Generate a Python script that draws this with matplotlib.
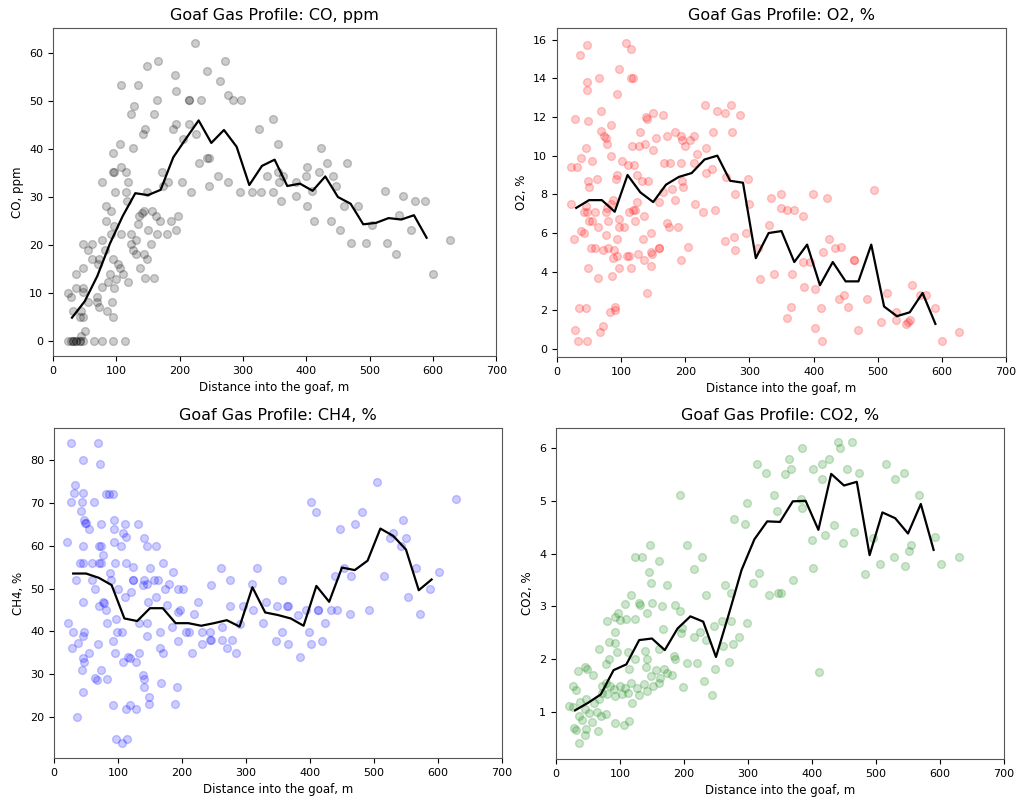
import numpy as np
import matplotlib
matplotlib.use("Agg")
import matplotlib.pyplot as plt

# bin centres of the running average along the goaf
bin_x = [30, 50, 70, 90, 110, 130, 150, 170, 190, 210, 230, 250, 270, 290, 310,
         330, 350, 370, 390, 410, 430, 450, 470, 490, 510, 530, 550, 570, 590]

co_mean = [4.8, 8.2, 13.5, 20.3, 26.0, 30.8, 30.4, 31.5, 38.3, 42.2, 46.0, 41.3, 44.0, 40.5, 32.5,
           36.5, 37.8, 32.3, 32.8, 31.3, 34.3, 30.0, 28.6, 24.3, 24.6, 25.6, 25.3, 26.2, 21.5]
o2_mean = [7.3, 7.7, 7.7, 7.1, 9.0, 8.1, 7.6, 8.5, 8.9, 9.1, 9.8, 10.0, 8.7, 8.6, 4.7,
           6.0, 6.1, 4.5, 5.4, 3.3, 4.5, 3.5, 3.5, 5.4, 2.2, 1.7, 1.9, 2.9, 1.3]
ch4_mean = [53.5, 53.5, 52.5, 50.8, 43.0, 42.4, 45.4, 45.4, 41.9, 41.9, 41.3, 41.9, 42.6, 41.1, 50.3,
            44.4, 43.8, 43.0, 41.3, 50.6, 46.9, 54.9, 54.3, 56.5, 64.0, 62.3, 59.1, 49.6, 52.1]
co2_mean = [1.03, 1.17, 1.33, 1.79, 1.90, 2.36, 2.39, 2.17, 2.58, 2.81, 2.71, 2.04, 2.85, 3.69, 4.27,
            4.61, 4.60, 4.99, 5.00, 4.45, 5.51, 5.29, 5.36, 3.97, 4.78, 4.67, 4.38, 4.94, 4.07]

# individual samples: (distance m, reading)
co_samples = [
    (224, 62.2), (166, 58.4), (149, 57.3), (272, 58.4), (243, 56.3), (108, 53.3), (134, 53.3),
    (192, 55.4), (263, 54.3), (194, 52.2), (277, 51.4), (284, 50.3), (297, 50.3), (214, 50.3),
    (214, 50.3), (233, 50.3), (165, 50.3), (128, 49.1), (123, 47.3), (160, 47.3), (347, 46.3),
    (145, 44.2), (142, 43.2), (190, 44.2), (195, 45.2), (214, 45.2), (226, 43.2), (326, 44.2),
    (355, 41.1), (106, 41.1), (127, 40.2), (95, 39.2), (206, 42.2), (94, 35.2), (97, 35.2),
    (108, 36.2), (115, 35.2), (172, 35.2), (231, 37.2), (244, 38.2), (247, 38.2), (118, 33.2),
    (78, 33.1), (182, 33.2), (203, 33.1), (261, 34.3), (276, 33.1), (338, 34.3), (355, 35.2),
    (174, 32.2), (115, 31.1), (98, 31.1), (148, 31.1), (218, 31.1), (246, 32.2), (295, 31.1),
    (314, 31.1), (329, 31.1), (347, 31.1), (360, 29.2), (117, 29.2), (84, 28.2), (91, 27.1),
    (140, 26.6), (144, 27.1), (156, 27.1), (163, 26.1), (136, 26.1), (169, 25.0), (186, 25.0),
    (198, 26.1), (84, 25.0), (96, 24.0), (134, 24.3), (150, 23.1), (195, 23.1), (165, 22.2),
    (180, 22.2), (92, 22.2), (107, 22.2), (123, 22.2), (131, 21.1), (154, 20.1), (48, 20.1),
    (61, 20.1), (56, 19.0), (78, 21.1), (82, 19.0), (123, 20.1), (126, 19.0), (131, 18.2),
    (143, 18.2), (72, 17.0), (61, 17.0), (94, 17.0), (148, 17.0), (71, 16.1), (102, 16.1),
    (48, 15.2), (106, 15.2), (137, 15.2), (36, 14.0), (90, 14.0), (110, 14.0), (100, 12.9),
    (119, 12.2), (87, 12.2), (145, 13.1), (160, 13.1), (36, 11.0), (47, 11.0), (47, 10.1),
    (77, 11.2), (97, 11.0), (24, 10.0), (29, 9.1), (69, 9.1), (56, 8.0), (69, 8.0), (93, 8.0),
    (73, 7.1), (32, 6.1), (45, 6.1), (48, 5.0), (43, 5.0), (94, 5.0), (86, 6.1), (51, 2.0),
    (45, 1.0), (24, 0), (29, 0), (32, 0), (32, 0), (36, 0), (36, 0), (43, 0), (43, 0), (47, 0),
    (64, 0), (77, 0), (94, 0), (114, 0),
    (363, 34.3), (357, 33.1), (401, 36.2), (383, 33.2), (383, 30.2), (399, 34.3), (420, 35.2),
    (423, 40.2), (432, 37.2), (442, 34.3), (447, 32.3), (464, 37.2), (409, 31.3), (401, 28.2),
    (412, 25.0), (439, 25.0), (453, 23.1), (460, 28.2), (481, 28.2), (470, 20.3), (494, 20.3),
    (504, 24.1), (525, 31.3), (528, 20.3), (542, 18.2), (547, 26.2), (553, 30.2), (565, 23.1),
    (572, 29.2), (587, 29.2), (627, 21.1), (600, 14.0),
]

o2_samples = [
    (47, 15.7), (36, 15.2), (107, 15.8), (115, 15.5), (97, 14.5), (66, 14.0), (47, 13.8),
    (47, 13.4), (116, 14.0), (119, 14.0), (93, 13.2), (68, 12.3), (28, 11.9), (49, 11.8),
    (84, 11.6), (68, 11.3), (73, 11.0), (76, 10.9), (78, 10.6), (45, 10.4), (37, 9.9), (55, 9.7),
    (84, 10.0), (22, 9.4), (31, 9.4), (101, 9.7), (110, 9.5), (120, 9.5), (94, 9.0), (92, 8.8),
    (63, 8.8), (49, 8.7), (50, 8.4), (125, 9.0), (132, 8.7), (142, 8.7), (141, 11.9), (139, 12.0),
    (149, 12.2), (166, 12.1), (129, 11.2), (155, 10.9), (172, 11.0), (184, 11.2), (193, 11.0),
    (195, 10.8), (214, 11.0), (208, 10.8), (200, 10.5), (117, 10.5), (128, 10.5), (138, 10.6),
    (150, 10.3), (218, 10.1), (231, 12.6), (249, 12.3), (262, 12.2), (271, 12.6), (285, 12.1),
    (244, 11.2), (273, 11.2), (232, 10.4), (167, 9.6), (176, 9.6), (193, 9.6), (214, 9.6),
    (232, 9.1), (242, 9.3), (195, 8.7), (197, 8.4), (180, 8.3), (166, 8.1), (159, 7.6), (184, 7.7),
    (215, 7.5), (227, 7.1), (246, 7.2), (263, 8.9), (278, 8.0), (298, 8.8), (299, 7.5), (87, 7.7),
    (84, 7.5), (22, 7.5), (45, 7.4), (47, 7.1), (42, 7.1), (60, 7.1), (50, 6.6), (54, 6.6),
    (77, 7.1), (80, 6.6), (96, 6.7), (112, 7.1), (118, 7.2), (122, 7.2), (125, 7.6), (136, 6.9),
    (122, 6.6), (78, 7.3), (64, 6.3), (77, 5.9), (97, 6.3), (104, 6.3), (172, 6.5), (174, 6.3),
    (188, 6.3), (146, 6.0), (134, 5.7), (37, 6.1), (26, 5.7), (42, 6.0), (94, 5.7), (53, 5.2),
    (60, 5.2), (71, 5.1), (80, 5.2), (89, 5.1), (87, 4.7), (93, 4.8), (109, 4.8), (112, 4.8),
    (127, 4.9), (136, 4.6), (146, 5.0), (148, 4.9), (159, 5.2), (159, 5.2), (146, 4.3), (193, 4.6),
    (204, 5.3), (262, 5.6), (276, 5.8), (278, 5.1), (295, 6.0), (96, 4.2), (115, 4.2), (86, 3.8),
    (49, 4.2), (64, 3.7), (141, 2.9), (313, 5.2), (317, 3.6), (339, 3.9), (34, 2.1), (46, 2.1),
    (82, 1.9), (91, 2.0), (90, 2.2), (28, 1.0), (72, 1.2), (67, 0.9), (33, 0.4), (47, 0.4),
    (333, 7.8), (349, 8.0), (349, 7.3), (359, 7.2), (370, 7.2), (383, 6.9), (399, 8.0), (421, 7.8),
    (494, 8.2), (331, 6.4), (424, 5.7), (434, 5.2), (443, 5.3), (414, 5.0), (463, 4.6), (463, 4.6),
    (384, 4.5), (394, 4.5), (366, 3.9), (385, 3.2), (402, 3.1), (448, 2.8), (440, 2.6), (454, 2.2),
    (483, 2.6), (515, 2.9), (553, 3.3), (566, 2.8), (575, 2.8), (589, 2.1), (365, 2.2), (411, 2.1),
    (359, 1.6), (402, 1.1), (413, 0.4), (470, 1.0), (505, 1.4), (528, 1.5), (544, 1.3), (547, 1.4),
    (550, 1.5), (601, 0.4), (627, 0.9), (528, 1.9),
]

ch4_samples = [
    (27, 84.0), (68, 84.0), (46, 80.0), (72, 79.0), (33, 74.2), (32, 72.2), (46, 72.2), (27, 70.3),
    (44, 70.3), (63, 70.3), (82, 72.0), (86, 72.0), (92, 72.0), (42, 68.1), (47, 66.1), (50, 65.2),
    (55, 64.0), (48, 65.4), (74, 65.0), (93, 66.1), (93, 64.0), (111, 65.0), (131, 65.0),
    (108, 62.9), (112, 62.1), (94, 60.9), (105, 59.9), (141, 61.9), (145, 59.9), (159, 59.9),
    (21, 60.9), (46, 59.9), (70, 59.9), (74, 59.9), (77, 57.8), (40, 56.0), (45, 56.0), (59, 56.0),
    (71, 56.0), (74, 56.0), (95, 56.0), (113, 56.0), (88, 53.7), (124, 55.1), (150, 54.9),
    (170, 56.0), (186, 53.9), (34, 52.0), (59, 52.0), (89, 52.0), (123, 52.0), (123, 52.0),
    (141, 52.0), (157, 52.0), (162, 52.0), (139, 50.8), (145, 51.1), (180, 51.1), (173, 49.9),
    (194, 49.9), (202, 49.9), (64, 49.9), (100, 49.9), (120, 49.1), (111, 47.9), (159, 48.1),
    (46, 46.9), (76, 46.9), (78, 46.5), (70, 45.9), (82, 45.0), (147, 46.9), (176, 46.1),
    (225, 46.9), (197, 45.0), (194, 44.4), (218, 44.0), (261, 54.9), (275, 52.0), (246, 50.8),
    (309, 51.1), (317, 54.9), (275, 45.9), (295, 45.9), (311, 45.0), (331, 46.9), (348, 45.9),
    (97, 42.8), (22, 42.0), (83, 42.0), (99, 39.9), (106, 39.9), (133, 41.9), (145, 41.9),
    (166, 39.9), (184, 41.1), (207, 39.9), (211, 39.9), (232, 39.9), (244, 39.9), (263, 41.1),
    (291, 41.6), (326, 42.0), (29, 39.9), (47, 39.9), (145, 38.9), (46, 38.8), (38, 37.2),
    (28, 36.0), (69, 37.0), (92, 37.8), (243, 38.0), (246, 38.0), (262, 38.0), (278, 38.0),
    (231, 37.0), (347, 37.8), (194, 37.8), (165, 36.0), (171, 34.9), (55, 34.9), (96, 34.9),
    (133, 34.9), (215, 34.9), (271, 36.0), (284, 34.9), (46, 33.7), (47, 32.8), (115, 33.9),
    (118, 33.7), (108, 32.8), (128, 32.8), (44, 31.0), (73, 31.0), (67, 28.6), (64, 29.0),
    (83, 28.8), (139, 29.8), (140, 28.8), (140, 26.9), (167, 27.9), (192, 26.9), (46, 25.8),
    (149, 24.7), (148, 23.0), (92, 22.8), (119, 22.8), (112, 21.8), (128, 21.8), (189, 23.0),
    (36, 19.9), (97, 14.8), (106, 13.9), (114, 14.8),
    (504, 74.9), (628, 70.9), (401, 70.1), (410, 67.9), (482, 67.9), (447, 64.0), (470, 65.0),
    (546, 66.1), (525, 61.9), (530, 62.9), (550, 61.9), (542, 59.9), (566, 54.9), (601, 53.8),
    (515, 53.0), (453, 54.9), (439, 53.0), (464, 53.0), (357, 52.0), (553, 47.9), (588, 49.8),
    (364, 46.0), (366, 46.0), (382, 43.8), (394, 45.0), (413, 45.0), (413, 45.0), (433, 45.0),
    (442, 45.0), (463, 44.0), (493, 45.0), (572, 44.0), (424, 41.9), (399, 39.9), (357, 39.9),
    (365, 37.0), (402, 37.0), (419, 37.8), (384, 33.9),
]

co2_samples = [
    (314, 5.70), (328, 5.52), (340, 5.11), (193, 5.11), (298, 4.96), (278, 4.65), (295, 4.56),
    (346, 4.81), (147, 4.16), (204, 4.16), (123, 3.94), (135, 3.93), (161, 3.86), (228, 3.93),
    (216, 3.70), (146, 3.65), (148, 3.44), (173, 3.40), (317, 3.63), (308, 3.45), (264, 3.41),
    (274, 3.26), (234, 3.22), (333, 3.22), (347, 3.26), (118, 3.22), (108, 3.05), (129, 3.07),
    (132, 3.03), (150, 3.06), (166, 3.01), (186, 3.03), (193, 2.91), (142, 2.87), (97, 2.87),
    (93, 2.79), (100, 2.74), (109, 2.76), (123, 2.76), (79, 2.72), (260, 2.72), (274, 2.72),
    (298, 2.68), (168, 2.57), (195, 2.49), (197, 2.58), (225, 2.52), (247, 2.62), (92, 2.51),
    (83, 2.33), (93, 2.31), (215, 2.41), (234, 2.36), (286, 2.41), (68, 2.20), (96, 2.14),
    (113, 2.14), (139, 2.15), (161, 2.20), (277, 2.28), (261, 2.25), (83, 2.00), (124, 2.00),
    (142, 2.00), (184, 2.06), (186, 2.00), (205, 1.93), (220, 1.92), (270, 1.95), (46, 1.85),
    (49, 1.82), (58, 1.69), (78, 1.90), (114, 1.81), (140, 1.85), (156, 1.79), (169, 1.81),
    (174, 1.74), (34, 1.77), (148, 1.68), (162, 1.65), (181, 1.69), (249, 1.82), (231, 1.59),
    (27, 1.49), (31, 1.41), (72, 1.49), (78, 1.55), (85, 1.49), (91, 1.44), (100, 1.49),
    (108, 1.46), (117, 1.55), (127, 1.46), (137, 1.52), (143, 1.40), (151, 1.49), (161, 1.55),
    (199, 1.48), (244, 1.31), (72, 1.36), (80, 1.33), (92, 1.30), (103, 1.33), (113, 1.36),
    (130, 1.31), (47, 1.24), (38, 1.19), (59, 1.16), (68, 1.24), (119, 1.16), (20, 1.11),
    (26, 1.10), (46, 1.05), (52, 0.98), (36, 0.92), (64, 1.00), (70, 0.92), (78, 0.95),
    (41, 0.85), (57, 0.81), (93, 0.79), (106, 0.76), (114, 0.83), (28, 0.70), (31, 0.65),
    (47, 0.67), (66, 0.64), (46, 0.57), (36, 0.40),
    (441, 6.12), (463, 6.12), (444, 6.01), (385, 6.01), (364, 5.80), (426, 5.80), (415, 5.70),
    (402, 5.61), (367, 5.61), (358, 5.51), (516, 5.70), (455, 5.61), (473, 5.52), (415, 5.41),
    (530, 5.41), (544, 5.52), (567, 5.11), (383, 5.03), (385, 4.86), (434, 4.55), (466, 4.41),
    (421, 4.35), (400, 4.26), (448, 4.20), (495, 4.30), (592, 4.32), (554, 4.16), (551, 4.05),
    (528, 3.93), (506, 3.81), (546, 3.77), (602, 3.81), (630, 3.93), (483, 3.61), (402, 3.72),
    (370, 3.50), (351, 3.26), (411, 1.76),
]

panels = [
    # (rect in figure fraction, samples, mean, colour, label, ylim)
    ([0.052, 0.555, 0.435, 0.410], co_samples, co_mean, "k", "CO, ppm", (-3.2, 65.3)),
    ([0.5466, 0.554, 0.4406, 0.411], o2_samples, o2_mean, "r", "O2, %", (-0.4, 16.6)),
    ([0.053, 0.0525, 0.4396, 0.4125], ch4_samples, ch4_mean, "b", "CH4, %", (10.4, 87.5)),
    ([0.5456, 0.0515, 0.4397, 0.4135], co2_samples, co2_mean, "g", "CO2, %", (0.11, 6.38)),
]

fig = plt.figure(figsize=(10.19, 8.0), dpi=100)

for rect, samples, mean, colour, label, ylim in panels:
    ax = fig.add_axes(rect)
    pts = np.array(samples, dtype=float)
    ax.scatter(pts[:, 0], pts[:, 1], color=colour, alpha=0.2, s=32)
    ax.plot(bin_x, mean, color="k", lw=1.6)
    ax.set_xlim(0, 700)
    ax.set_xticks(range(0, 701, 100))
    ax.set_ylim(*ylim)
    ax.set_xlabel("Distance into the goaf, m", fontsize=8.5)
    ax.set_ylabel(label, fontsize=8.5)
    ax.set_title("Goaf Gas Profile: " + label, fontsize=11.5)
    ax.tick_params(labelsize=8)
    for sp in ax.spines.values():
        sp.set_color("#555555")

fig.savefig("out.png", dpi=100)
